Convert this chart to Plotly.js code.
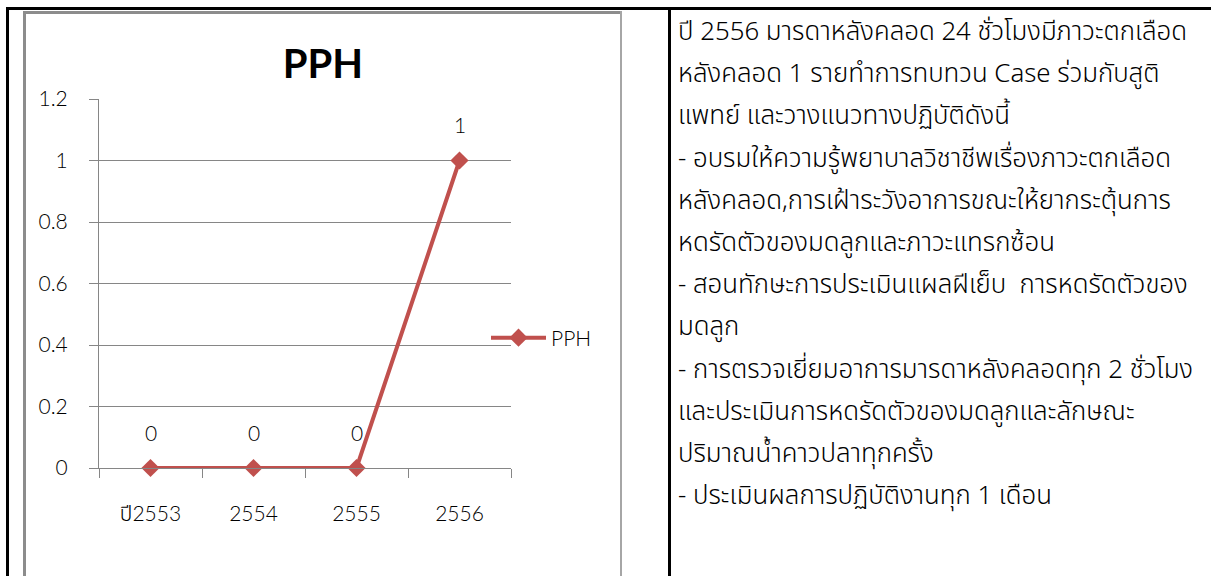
<!DOCTYPE html>
<html>
<head>
<meta charset="utf-8">
<script src="https://cdn.plot.ly/plotly-3.0.1.min.js"></script>
<style>
  html, body { margin: 0; padding: 0; background: #ffffff; }
  #wrap { position: relative; width: 1211px; height: 576px; overflow: hidden; background: #fff; }
  #chart { position: absolute; left: 0; top: 0; width: 1211px; height: 576px; }
  .b { position: absolute; }
  #notes { position: absolute; left: 678px; top: 12px; width: 530px;
           font-family: "Noto Sans Thai", "Noto Sans Thai UI", "Leelawadee UI", Tahoma, "Noto Sans", sans-serif;
           font-size: 25.8px; font-weight: 300; line-height: 42.2px; color: #000; white-space: nowrap; }
</style>
</head>
<body>
<div id="wrap">
  <div id="chart"></div>
  <div class="b" style="left:6px;top:7px;width:1205px;height:3px;background:#000;"></div>
  <div class="b" style="left:6px;top:7px;width:3px;height:569px;background:#000;"></div>
  <div class="b" style="left:668px;top:7px;width:3px;height:569px;background:#000;"></div>
  <div class="b" style="left:23px;top:11px;width:599px;height:3px;background:#8c8c8c;"></div>
  <div class="b" style="left:23px;top:11px;width:3px;height:565px;background:#8c8c8c;"></div>
  <div class="b" style="left:620px;top:11px;width:2px;height:565px;background:#a6a6a6;"></div>
  <div id="notes"></div>
</div>
<script>
// ---- data ----
const categories = ["ปี2553", "2554", "2555", "2556"];
const seriesName = "PPH";
const pphValues = [0, 0, 0, 1];
const chartTitle = "PPH";
const noteLines = [
  "ปี 2556 มารดาหลังคลอด 24 ชั่วโมงมีภาวะตกเลือด",
  "หลังคลอด 1 รายทำการทบทวน Case ร่วมกับสูติ",
  "แพทย์ และวางแนวทางปฏิบัติดังนี้",
  "- อบรมให้ความรู้พยาบาลวิชาชีพเรื่องภาวะตกเลือด",
  "หลังคลอด,การเฝ้าระวังอาการขณะให้ยากระตุ้นการ",
  "หดรัดตัวของมดลูกและภาวะแทรกซ้อน",
  "- สอนทักษะการประเมินแผลฝีเย็บ  การหดรัดตัวของ",
  "มดลูก",
  "- การตรวจเยี่ยมอาการมารดาหลังคลอดทุก 2 ชั่วโมง",
  "และประเมินการหดรัดตัวของมดลูกและลักษณะ",
  "ปริมาณน้ำคาวปลาทุกครั้ง",
  "- ประเมินผลการปฏิบัติงานทุก 1 เดือน"
];

// ---- notes text ----
const notes = document.getElementById("notes");
noteLines.forEach(t => {
  const d = document.createElement("div");
  d.style.whiteSpace = "pre";
  d.textContent = t;
  notes.appendChild(d);
});

// ---- chart ----
const red = "#C0504D";
const chartFont = "Lato, 'Noto Sans Thai', 'Open Sans', sans-serif";
const labelSize = 21;
const labelFont = { family: chartFont, size: labelSize, color: "#000", weight: 300 };

const trace = {
  type: "scatter",
  mode: "lines+markers",
  x: categories,
  y: pphValues,
  name: seriesName,
  line: { color: red, width: 4 },
  marker: { symbol: "diamond", size: 14, color: red },
  cliponaxis: false
};

// annotations use the category index so numeric-looking names are not read as positions
const annotations = pphValues.map((v, i) => ({
  x: i, y: v, xref: "x", yref: "y",
  text: String(v), showarrow: false,
  yshift: 36, font: labelFont
}));

const layout = {
  width: 1211, height: 576,
  margin: { l: 99, r: 700, t: 99, b: 108, pad: 0 },
  paper_bgcolor: "rgba(0,0,0,0)",
  plot_bgcolor: "rgba(0,0,0,0)",
  title: {
    text: "<b>" + chartTitle + "</b>",
    font: { family: chartFont, size: 40, color: "#000" },
    xref: "container", yref: "container",
    x: 323 / 1211, y: 1 - 64 / 576, xanchor: "center", yanchor: "middle"
  },
  font: labelFont,
  xaxis: {
    type: "category",
    categoryorder: "array", categoryarray: categories,
    range: [-0.5, categories.length - 0.5],
    autorange: false,
    tickangle: 0,
    showgrid: false,
    showline: true, linecolor: "#868686", linewidth: 1,
    ticks: "outside", tickson: "boundaries", ticklen: 9, tickcolor: "#868686",
    ticklabelstandoff: 27,
    tickfont: labelFont,
    zeroline: false, fixedrange: true
  },
  yaxis: {
    range: [0, 1.2],
    autorange: false,
    dtick: 0.2, tick0: 0,
    showgrid: true, gridcolor: "#868686", gridwidth: 1,
    showline: true, linecolor: "#868686", linewidth: 1,
    ticks: "outside", ticklen: 9, tickcolor: "#868686",
    ticklabelstandoff: 17,
    tickfont: labelFont,
    zeroline: false, fixedrange: true
  },
  showlegend: true,
  legend: {
    x: (486 - 99) / 412, y: (468 - 338) / 369,
    xanchor: "left", yanchor: "middle",
    itemwidth: 55,
    bgcolor: "rgba(0,0,0,0)",
    font: labelFont
  },
  annotations: annotations
};

Plotly.newPlot("chart", [trace], layout, { displayModeBar: false, staticPlot: true });
</script>
</body>
</html>
